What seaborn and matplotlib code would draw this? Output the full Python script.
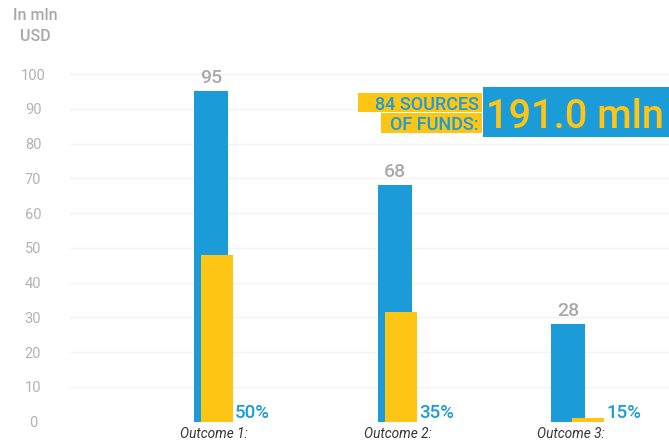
import matplotlib
matplotlib.use("Agg")
import matplotlib.pyplot as plt
from matplotlib.patches import Rectangle
import seaborn as sns

# Funding per outcome, in mln USD
categories = ["Outcome 1:", "Outcome 2:", "Outcome 3:"]
totals = [95, 68, 28]
shares = [48, 31.5, 1.2]
share_pct = [50, 35, 15]
y_ticks = [0, 10, 20, 30, 40, 50, 60, 70, 80, 90, 100]
unit_label = "In mln\nUSD"
sources_lines = ["84 SOURCES", "OF FUNDS:"]
total_label = "191.0 mln"

BLUE = "#1b9cd8"
YELLOW = "#fec514"
GREY = "#a9a9a9"

sns.set_theme(style="white")
plt.rcParams["font.family"] = ["Roboto", "DejaVu Sans"]

W, H = 669, 445
fig = plt.figure(figsize=(W / 100, H / 100), dpi=100)

# axes placement in pixels
left_px, right_px, base_px = 70, 669, 421.7
ax = fig.add_axes([left_px / W, (H - base_px) / H, (right_px - left_px) / W, base_px / H])

# horizontal slot of each outcome group
slots = [0.0, 1.03, 2.0]
bar_w = 0.19
min_gap = min(b - a for a, b in zip(slots, slots[1:]))
sns.barplot(x=slots, y=totals, native_scale=True, color=BLUE, saturation=1,
            width=bar_w / min_gap, linewidth=0, ax=ax)

# yellow sub-bars sit just right of the blue ones
shift = [0.033, 0.036, 0.112]
share_w = 0.18
xs = [s + d for s, d in zip(slots, shift)]
ax.bar(xs, shares, width=share_w, color=YELLOW, linewidth=0, zorder=3)

for s, t in zip(slots, totals):
    ax.annotate(str(t), (s, t), xytext=(0, 3), textcoords="offset points",
                ha="center", va="bottom", color=GREY, fontsize=14,
                fontweight="medium")

for x, p in zip(xs, share_pct):
    ax.annotate(f"{p}%", (x + share_w / 2, 0), xytext=(1.5, 0),
                textcoords="offset points", ha="left", va="bottom",
                color=BLUE, fontsize=13.5, fontweight="medium")

ax.set_ylim(0, base_px / 3.477)
ax.set_xlim(-0.792, 2.566)
ax.set_xticks([s + 0.017 for s in slots])
ax.set_xticklabels(categories)
ax.set_yticks(y_ticks)
ax.set_yticklabels([str(v) for v in y_ticks])
ax.grid(axis="y", color="#f3f3f3", linewidth=1)
ax.grid(axis="x", visible=False)
ax.set_axisbelow(True)
for s in ax.spines.values():
    s.set_visible(False)
ax.tick_params(axis="y", length=0, pad=26.6, labelsize=10.5, labelcolor="#b3b3b3")
for lab in ax.get_yticklabels():
    lab.set_horizontalalignment("center")
ax.tick_params(axis="x", length=0, pad=4, labelsize=9.8, labelcolor="#333333")
for lab in ax.get_xticklabels():
    lab.set_fontstyle("italic")
ax.set_xlabel("")
ax.set_ylabel("")

fig.text(35 / W, 1 - 8 / H, unit_label, ha="center", va="top", color=GREY,
         fontsize=11.5, fontweight="medium", linespacing=1.5)

# headline block
def px_rect(x0, y0, x1, y1, color):
    fig.add_artist(Rectangle((x0 / W, 1 - y1 / H), (x1 - x0) / W, (y1 - y0) / H,
                             transform=fig.transFigure, color=color, lw=0))

px_rect(483, 87, 669, 137, BLUE)
px_rect(358, 93, 482, 112, YELLOW)
px_rect(381, 113, 482, 133, YELLOW)
fig.text(479 / W, 1 - 102.5 / H, sources_lines[0], ha="right", va="center_baseline",
         color=BLUE, fontsize=13, fontweight="medium")
fig.text(479 / W, 1 - 123 / H, sources_lines[1], ha="right", va="center_baseline",
         color=BLUE, fontsize=13, fontweight="medium")
fig.text(486 / W, 1 - 113 / H, total_label, ha="left", va="center_baseline",
         color=YELLOW, fontsize=28.5, fontweight="medium")

fig.savefig("out.png", dpi=100)
